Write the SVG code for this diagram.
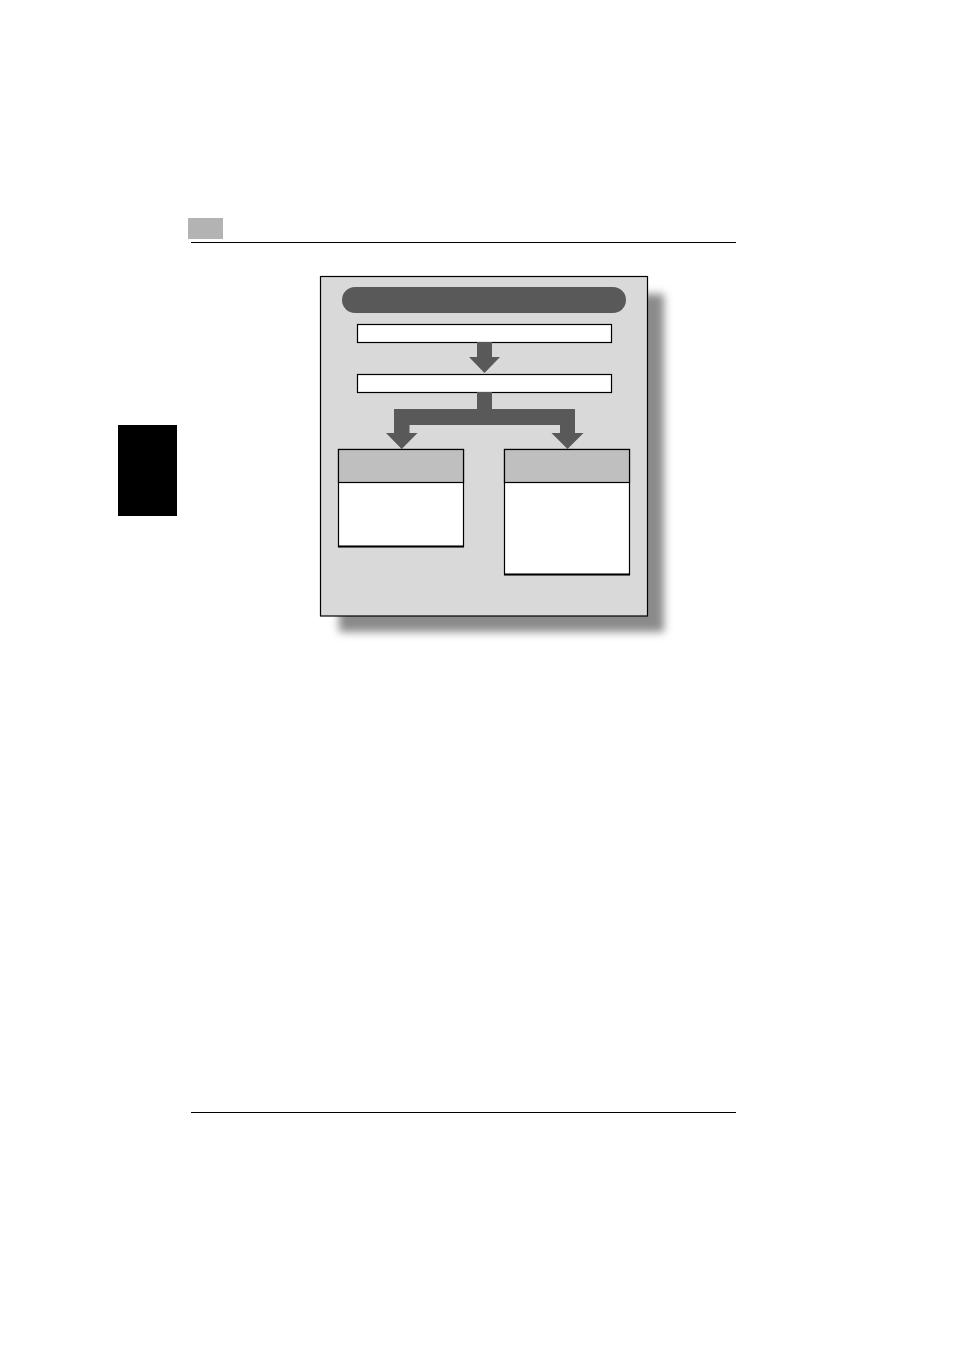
<svg xmlns="http://www.w3.org/2000/svg" width="954" height="1350" viewBox="0 0 954 1350">
<defs>
<filter id="blur" x="-10%" y="-10%" width="120%" height="120%"><feGaussianBlur stdDeviation="4"/></filter>
<style>
.box{fill:#ffffff;stroke:#000;stroke-width:1.2}
.hdr{fill:#bfbfbf;stroke:#000;stroke-width:1.2}
.arrow{fill:#595959;stroke:none}
</style>
</defs>
<rect width="954" height="1350" fill="#ffffff"/>
<g id="page-header">
<rect x="188" y="218" width="35" height="21" fill="#b3b3b3"/>
<line x1="191" y1="242.5" x2="736" y2="242.5" stroke="#000" stroke-width="1.2"/>
</g>
<rect id="side-tab" x="118" y="425" width="59" height="91" fill="#000"/>
<line id="footer-rule" x1="191" y1="1112.5" x2="736" y2="1112.5" stroke="#000" stroke-width="1.2"/>
<g id="panel">
<rect x="339" y="294" width="325" height="338" fill="#8a8a8a" filter="url(#blur)"/>
<rect x="320.5" y="276.5" width="327" height="339.5" fill="#d9d9d9" stroke="#000" stroke-width="1.2"/>
</g>
<g id="title-pill"><rect x="342" y="287" width="284" height="26" rx="13" fill="#595959"/></g>
<g id="step1"><rect class="box" x="357.5" y="324.5" width="254" height="18"/></g>
<g id="step2"><rect class="box" x="357.5" y="374.5" width="254" height="18"/></g>
<g id="connectors">
<polygon class="arrow" points="477,342 492,342 492,357 500,357 484.5,373 469,357 477,357"/>
<polygon class="arrow" points="477,392 492,392 492,409 575,409 575,433 583.5,433 567.5,449 551.5,433 560,433 560,425 409.5,425 409.5,433 417.5,433 401.7,449 386,433 394,433 394,409 477,409"/>
</g>
<g id="left-box">
<rect class="box" x="338.5" y="449.5" width="125" height="97"/>
<rect class="hdr" x="338.5" y="449.5" width="125" height="33"/>
<line x1="338" y1="546.5" x2="464" y2="546.5" stroke="#000" stroke-width="2"/>
</g>
<g id="right-box">
<rect class="box" x="504.5" y="449.5" width="125" height="125"/>
<rect class="hdr" x="504.5" y="449.5" width="125" height="33"/>
<line x1="504" y1="574.5" x2="630" y2="574.5" stroke="#000" stroke-width="2"/>
</g>
</svg>
